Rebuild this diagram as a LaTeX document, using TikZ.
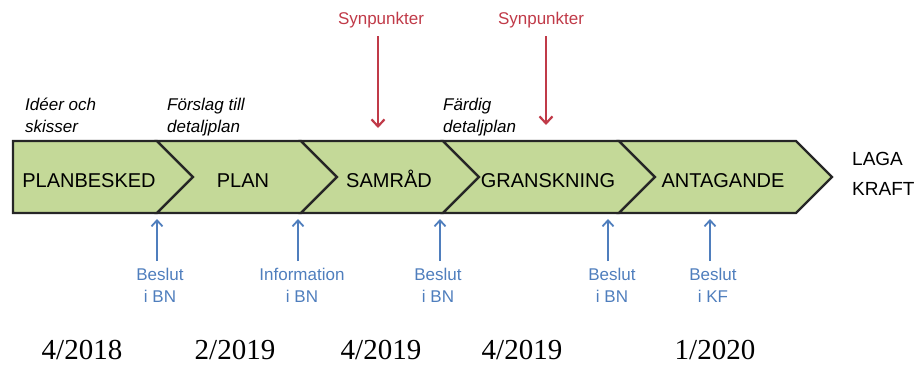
\documentclass[tikz,border=0pt]{standalone}
\usepackage{fontspec}
\setmainfont{Liberation Serif}
\setsansfont{Liberation Sans}
\usetikzlibrary{arrows.meta}
\definecolor{chevgreen}{RGB}{196,217,152}
\definecolor{synred}{RGB}{192,58,72}
\definecolor{beslblue}{RGB}{79,126,189}

\begin{document}
\begin{tikzpicture}[x=1pt,y=-1pt,
  chev/.style={fill=chevgreen,draw=black!85,line width=2.2pt,line join=miter},
  phase/.style={font=\sffamily\fontsize{20}{24}\selectfont,anchor=base,inner sep=0pt},
  note/.style={font=\sffamily\itshape\fontsize{17}{22}\selectfont,align=left,anchor=north west,inner sep=0pt},
  syn/.style={font=\sffamily\fontsize{17}{20}\selectfont,text=synred,outer ysep=5pt},
  besl/.style={font=\sffamily\fontsize{17}{22}\selectfont,text=beslblue,align=center,anchor=north,inner sep=0pt,outer ysep=7pt},
  redarr/.style={draw=synred,line width=2.2pt,-{Straight Barb[length=7pt,width=13pt,line width=2.2pt]}},
  bluearr/.style={draw=beslblue,line width=1.8pt,-{Straight Barb[length=6pt,width=11pt,line width=1.8pt]}},
  date/.style={font=\fontsize{29}{34}\selectfont,anchor=base,inner sep=0pt}]
  \useasboundingbox (0,0) rectangle (918,367);
  \foreach \xa/\xb/\dl in {13/157/0,157/301/36,301/443/36,443/619/36,619/796/36}
    \filldraw[chev] (\xa,141) -- (\xa+\dl,177) -- (\xa,213) -- (\xb,213) -- (\xb+36,177) -- (\xb,141) -- cycle;
  \node[phase] (planbesked) at (89,187) {PLANBESKED};
  \node[phase] (plan) at (243,187) {PLAN};
  \node[phase] (samrad) at (389,187) {SAMRÅD};
  \node[phase] (granskning) at (548,187) {GRANSKNING};
  \node[phase] (antagande) at (723,187) {ANTAGANDE};
  \node[font=\sffamily\fontsize{19}{30}\selectfont,align=left,anchor=west,inner sep=0pt] (laga) at (852,174) {LAGA\\KRAFT};
  \node[note] (ideer) at (25,98) {Idéer och\\ skisser};
  \node[note] (forslag) at (167,98) {Förslag till\\detaljplan};
  \node[note] (fardig) at (443,98) {Färdig\\detaljplan};
  \node[syn] (syn1) at (381,20) {Synpunkter};
  \node[syn] (syn2) at (541,20) {Synpunkter};
  \coordinate (r1) at (378,128);
  \coordinate (r2) at (546,125);
  \draw[redarr] (syn1.south -| r1) -- (r1);
  \draw[redarr] (syn2.south -| r2) -- (r2);
  \node[besl] (bes1) at (160,261) {Beslut\\i BN};
  \node[besl] (info) at (302,261) {Information\\i BN};
  \node[besl] (bes2) at (438,261) {Beslut\\i BN};
  \node[besl] (bes3) at (612,261) {Beslut\\i BN};
  \node[besl] (bes4) at (713,261) {Beslut\\i KF};
  \coordinate (b1) at (157,219);
  \coordinate (b2) at (298,219);
  \coordinate (b3) at (440,219);
  \coordinate (b4) at (608,219);
  \coordinate (b5) at (710,219);
  \draw[bluearr] (bes1.north -| b1) -- (b1);
  \draw[bluearr] (info.north -| b2) -- (b2);
  \draw[bluearr] (bes2.north -| b3) -- (b3);
  \draw[bluearr] (bes3.north -| b4) -- (b4);
  \draw[bluearr] (bes4.north -| b5) -- (b5);
  \node[date] (d1) at (82,359) {4/2018};
  \node[date] (d2) at (235,359) {2/2019};
  \node[date] (d3) at (381,359) {4/2019};
  \node[date] (d4) at (522,359) {4/2019};
  \node[date] (d5) at (715,359) {1/2020};
\end{tikzpicture}
\end{document}
